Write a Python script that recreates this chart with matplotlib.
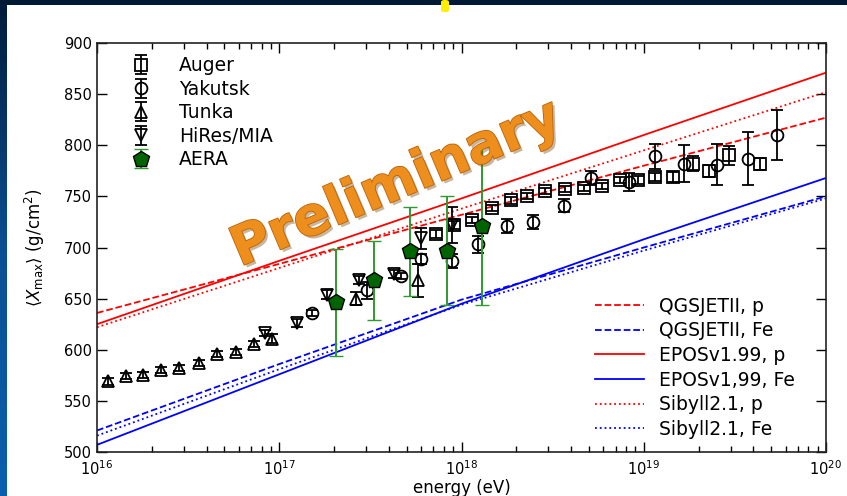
import matplotlib
matplotlib.use("Agg")
import matplotlib.pyplot as plt
import matplotlib.patheffects as pe
import numpy as np
from matplotlib.patches import Rectangle, FancyBboxPatch

# air-shower model predictions, read at each decade of energy
model_energy = [1e16, 1e17, 1e18, 1e19, 1e20]
qgsjet_p = [636, 684, 732, 780, 827]
qgsjet_fe = [521, 586, 649, 700, 750]
epos_p = [625, 687, 748, 810, 871]
epos_fe = [507, 576, 645, 708, 768]
sibyll_p = [622, 680, 738, 795, 852]
sibyll_fe = [516, 581, 644, 697, 748]

# measurements: log10(E/eV), <Xmax> in g/cm^2, uncertainty
auger_lg = [17.86, 17.96, 18.06, 18.17, 18.27, 18.36, 18.46, 18.57, 18.67,
            18.77, 18.87, 18.97, 19.06, 19.16, 19.27, 19.36, 19.47, 19.64]
auger_xmax = [713, 722, 727, 739, 746, 750, 755, 757, 758,
              760, 766, 766, 769, 769, 782, 775, 790, 782]
auger_err = [4, 4, 3, 3, 3, 3, 3, 3, 3, 3, 3, 4, 4, 5, 7, 6, 9, 6]

yakutsk_lg = [17.18, 17.48, 17.67, 17.78, 17.95, 18.09, 18.25, 18.39,
              18.56, 18.71, 18.92, 19.06, 19.22, 19.40, 19.57, 19.73]
yakutsk_xmax = [636, 658, 672, 689, 687, 703, 721, 725,
                741, 768, 764, 789, 782, 781, 787, 810]
yakutsk_err = [3, 8, 3, 5, 7, 8, 7, 7, 6, 7, 9, 12, 18, 20, 26, 24]

tunka_lg = [16.06, 16.16, 16.25, 16.35, 16.45, 16.56, 16.66, 16.76,
            16.86, 16.96, 17.42, 17.76]
tunka_xmax = [569, 574, 575, 580, 582, 587, 596, 598, 606, 611, 650, 668]
tunka_err = [3, 3, 3, 3, 3, 3, 3, 3, 3, 4, 6, 16]

hires_lg = [16.92, 17.10, 17.26, 17.44, 17.63, 17.78, 17.95]
hires_xmax = [616, 626, 654, 668, 674, 709, 722]
hires_err = [3, 4, 4, 4, 4, 10, 18]

aera_lg = [17.31, 17.52, 17.72, 17.92, 18.11]
aera_xmax = [647, 668, 697, 697, 721]
aera_err_lo = [53, 39, 44, 53, 77]
aera_err_hi = [52, 38, 43, 53, 77]

yticks = [500, 550, 600, 650, 700, 750, 800, 850, 900]

W, H = 847, 496
fig = plt.figure(figsize=(W / 100, H / 100), dpi=100, facecolor="white")

# slide frame: dark band on top, blue gradient on the left edge
fig.patches.append(Rectangle((0, 1 - 5 / H), 1, 5 / H, transform=fig.transFigure,
                             facecolor="#001a36", edgecolor="none", zorder=0))
strip = fig.add_axes([0, 0, 6 / W, 1 - 5 / H])
grad = np.linspace(0, 1, 256)[:, None]
strip.imshow(grad, aspect="auto", cmap=matplotlib.colors.LinearSegmentedColormap.from_list(
    "slide", ["#001c3c", "#0b4f93", "#0a5fae"]))
strip.set_axis_off()
fig.patches.append(FancyBboxPatch((441 / W, 1 - 12 / H), 8 / W, 12 / H,
                                  boxstyle="round,pad=0,rounding_size=0.004",
                                  transform=fig.transFigure, facecolor="#ffee00",
                                  edgecolor="none", zorder=3))

ax = fig.add_axes([97 / W, 44 / H, 729 / W, 409 / H])

lw = 1.3
ax.plot(model_energy, qgsjet_p, color="r", ls="--", lw=lw, label="QGSJETII, p")
ax.plot(model_energy, qgsjet_fe, color="b", ls="--", lw=lw, label="QGSJETII, Fe")
ax.plot(model_energy, epos_p, color="r", ls="-", lw=lw, label="EPOSv1.99, p")
ax.plot(model_energy, epos_fe, color="b", ls="-", lw=lw, label="EPOSv1,99, Fe")
ax.plot(model_energy, sibyll_p, color="r", ls=":", lw=lw, label="Sibyll2.1, p")
ax.plot(model_energy, sibyll_fe, color="b", ls=":", lw=lw, label="Sibyll2.1, Fe")
model_handles, model_labels = ax.get_legend_handles_labels()

marker_kw = dict(ls="none", color="black", mfc="none", mec="black", mew=1.3,
                 ms=8.5, capsize=4, elinewidth=1.3, capthick=1.3)
h_auger = ax.errorbar(10 ** np.array(auger_lg), auger_xmax, yerr=auger_err,
                      marker="s", **marker_kw)
h_yak = ax.errorbar(10 ** np.array(yakutsk_lg), yakutsk_xmax, yerr=yakutsk_err,
                    marker="o", **marker_kw)
h_tunka = ax.errorbar(10 ** np.array(tunka_lg), tunka_xmax, yerr=tunka_err,
                      marker="^", **marker_kw)
h_hires = ax.errorbar(10 ** np.array(hires_lg), hires_xmax, yerr=hires_err,
                      marker="v", **marker_kw)
h_aera = ax.errorbar(10 ** np.array(aera_lg), aera_xmax, yerr=[aera_err_lo, aera_err_hi],
                     marker="p", ls="none", color="#2f9a2f", mfc="#006400", mec="black",
                     mew=1.0, ms=12, capsize=5, elinewidth=1.4, capthick=1.4, zorder=5)

ax.set_xscale("log")
ax.set_xlim(1e16, 1e20)
ax.set_ylim(500, 900)
ax.set_yticks(yticks)
ax.tick_params(which="both", direction="in", top=True, right=True, labelsize=10.5,
               width=1.0, colors="black")
ax.tick_params(which="major", length=7)
ax.tick_params(which="minor", length=4)
ax.tick_params(axis="x", pad=5)
for sp in ax.spines.values():
    sp.set_linewidth(1.2)
    sp.set_color("#222222")

ax.set_xlabel("energy (eV)", fontsize=12, labelpad=1)
ax.set_ylabel(r"$\langle X_{\rm max}\rangle$ (g/cm$^2$)", fontsize=12)
ax.yaxis.set_label_coords(-0.068, 0.5)

leg1 = ax.legend([h_auger, h_yak, h_tunka, h_hires, h_aera],
                 ["Auger", "Yakutsk", "Tunka", "HiRes/MIA", "AERA"],
                 loc="upper left", bbox_to_anchor=(0.025, 0.995), frameon=False,
                 fontsize=13.5, numpoints=1, handlelength=1.6, handletextpad=1.2,
                 labelspacing=0.24, borderaxespad=0.2)
ax.add_artist(leg1)
ax.legend(model_handles, model_labels, loc="lower right", bbox_to_anchor=(0.975, 0.0),
          frameon=False, fontsize=13.5, handlelength=2.6, handletextpad=0.8,
          labelspacing=0.3, borderaxespad=0.3)

ax.text(0.41, 0.655, "Preliminary", transform=ax.transAxes, rotation=23,
        ha="center", va="center", fontsize=39, fontweight="bold", color="#ee8e1c",
        zorder=6,
        path_effects=[pe.withSimplePatchShadow(offset=(2, -2), shadow_rgbFace="#7a4a10", alpha=0.4),
                      pe.Stroke(linewidth=1.2, foreground="#b8640c"), pe.Normal()])

fig.savefig("out.png", dpi=100, facecolor=fig.get_facecolor())
